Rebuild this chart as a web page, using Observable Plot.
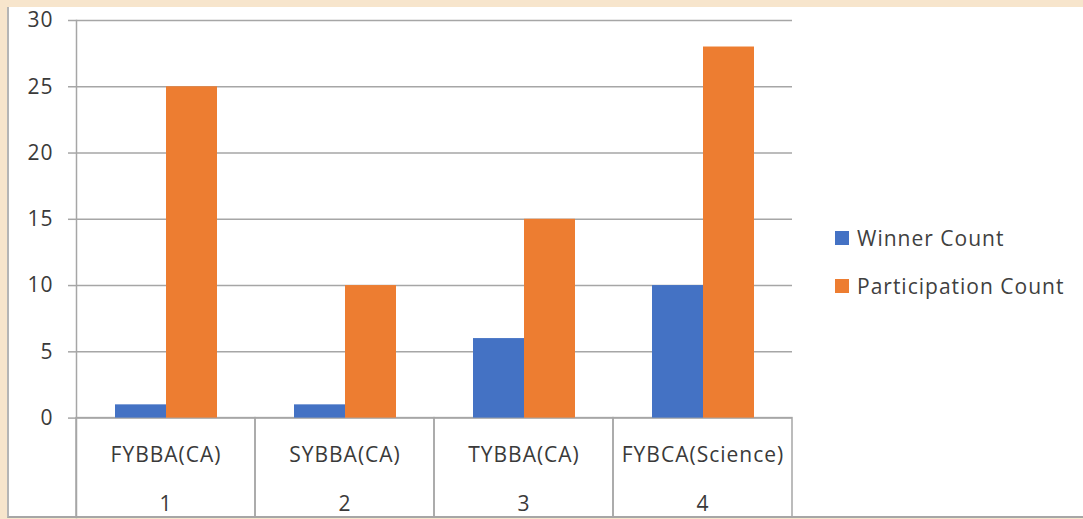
<!DOCTYPE html>
<html><head><meta charset="utf-8">
<script src="https://cdn.jsdelivr.net/npm/d3@7"></script>
<script src="https://cdn.jsdelivr.net/npm/@observablehq/plot@0.6"></script>
<style>
html,body{margin:0;padding:0;}
body{width:1083px;height:519px;background:#f7e5cc;position:relative;overflow:hidden;font-family:"Open Sans",sans-serif;}
#panel{position:absolute;left:7px;top:7px;width:1076px;height:509px;background:#fff;border-left:2px solid #b5b5b5;border-bottom:2px solid #a6a6a6;}
#chart{position:absolute;left:0;top:0;}
#legend{position:absolute;left:835px;top:214px;}
.lg-swatches{font-family:"Open Sans",sans-serif;font-size:21px;letter-spacing:1px;color:#404040;margin:0;}
.lg-swatch{height:47px;}
.lg-swatch > svg{margin-right:8px;}
</style>
</head><body>
<div id="panel"></div>
<div id="chart"></div>
<div id="legend"></div>
<script>
const categories = ["FYBBA(CA)", "SYBBA(CA)", "TYBBA(CA)", "FYBCA(Science)"];
const categoryNumbers = ["1", "2", "3", "4"];
const series = ["Winner Count", "Participation Count"];
const winnerCount = [1, 1, 6, 10];
const participationCount = [25, 10, 15, 28];
const yTicks = [0, 5, 10, 15, 20, 25, 30];
const colors = ["#4472c4", "#ed7d31"];

const yDomain = [-7.5, 30];
const gridColor = "#a6a6a6";
const textColor = "#3a3a3a";

const rows = categories.flatMap((c, i) => [
  {cat: c, series: series[0], value: winnerCount[i]},
  {cat: c, series: series[1], value: participationCount[i]}
]);
const labels = categories.map((c, i) => ({cat: c, num: categoryNumbers[i]}));

const chart = Plot.plot({
  width: 1083, height: 519,
  marginLeft: 75, marginRight: 290, marginTop: 20, marginBottom: 2,
  style: {background: "transparent", fontFamily: "'Open Sans', sans-serif", fontSize: "21px", letterSpacing: "1px", color: textColor},
  fx: {domain: categories, padding: 0, axis: null},
  x: {domain: series, paddingInner: 0, paddingOuter: 0.75, axis: null},
  y: {domain: yDomain, label: null},
  color: {domain: series, range: colors},
  marks: [
    Plot.ruleY(yTicks, {stroke: gridColor, strokeWidth: 1.5}),
    Plot.rect(labels, {fx: "cat", y1: yDomain[0], y2: 0, stroke: gridColor, strokeWidth: 1.5, fill: "none"}),
    Plot.frame({anchor: "left", facetAnchor: "left", stroke: gridColor, strokeWidth: 1.5}),
    Plot.barY(rows, {fx: "cat", x: "series", y: "value", fill: "series"}),
    Plot.axisY({ticks: yTicks, tickSize: 8, tickPadding: 15, stroke: gridColor, strokeWidth: 1.5, fill: textColor, label: null}),
    Plot.text(labels, {fx: "cat", text: "cat", frameAnchor: "bottom", dy: -56, fill: textColor}),
    Plot.text(labels, {fx: "cat", text: "num", frameAnchor: "bottom", dy: -7, fill: textColor})
  ]
});
document.getElementById("chart").appendChild(chart);

const legend = Plot.legend({
  color: {domain: series, range: colors},
  legend: "swatches",
  columns: 1,
  swatchSize: 14,
  className: "lg"
});
document.getElementById("legend").appendChild(legend);
</script>
</body></html>
